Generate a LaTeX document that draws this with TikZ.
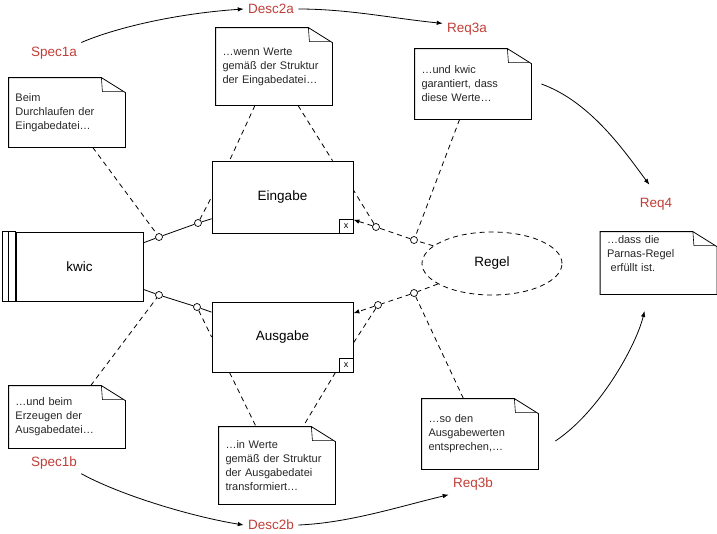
\documentclass[tikz,border=0pt]{standalone}
\usepackage{fontspec}
\setmainfont{Liberation Sans}
\usepackage{tikz}
\usetikzlibrary{positioning, arrows.meta, shapes.geometric}

\definecolor{tagred}{RGB}{192,62,56}

\begin{document}
\begin{tikzpicture}[
    x=1pt, y=-1pt,
    line width=0.8pt,
    unit/.style={
        rectangle,
        draw=black,
        minimum width=141pt,
        minimum height=71pt,
        font=\fontsize{13.5}{16}\selectfont
    },
    xmark/.style={
        rectangle,
        draw=black,
        fill=white,
        minimum size=14pt,
        inner sep=0pt,
        line width=0.6pt,
        font=\fontsize{9}{9}\selectfont
    },
    notebox/.style={
        rectangle,
        minimum width=116pt,
        text width=103pt,
        inner xsep=6.5pt,
        inner ysep=0pt,
        align=left,
        font=\fontsize{11}{14}\selectfont,
        text=black!85
    },
    tag/.style={
        text=tagred,
        inner sep=4pt,
        font=\fontsize{13.5}{16}\selectfont
    },
    port/.style={
        circle,
        draw=black,
        fill=white,
        minimum size=7pt,
        inner sep=0pt,
        line width=0.7pt
    },
    link/.style={dash pattern=on 5pt off 4pt},
    arr/.style={-{Latex[length=6pt,width=4.5pt]}}
]
\useasboundingbox (0,0) rectangle (717,533);

% --- Components ---
\node[unit, minimum width=127pt, minimum height=69pt] (kwic) at (79.5,266.5) {kwic};
\draw ([xshift=-13pt]kwic.north west) rectangle (kwic.south west);
\draw ([xshift=-7pt]kwic.north west) -- ([xshift=-7pt]kwic.south west);

\node[unit, minimum height=72pt] (eingabe) at (282.5,197) {Eingabe};
\node[xmark, anchor=south east] (eingabex) at (eingabe.south east) {x};
\node[unit, minimum height=70pt] (ausgabe) at (282.5,337) {Ausgabe};
\node[xmark, anchor=south east] (ausgabex) at (ausgabe.south east) {x};

\node[ellipse, draw, link, minimum width=140pt, minimum height=63pt,
      font=\fontsize{13.5}{16}\selectfont] (regel) at (492,263.5) {Regel};

% --- Ports ---
\node[port] (c1a) at (159,237) {};
\node[port] (c2a) at (198,223) {};
\node[port] (c1b) at (159,295) {};
\node[port] (c2b) at (197,307) {};
\node[port] (r1a) at (414,240) {};
\node[port] (r2a) at (376,227) {};
\node[port] (r1b) at (414,293) {};
\node[port] (r2b) at (378,305) {};

% --- Notes ---
\node[notebox, minimum height=69pt] (spec1a) at (67,112.5) {Beim\\Durchlaufen der\\Eingabedatei…};
\node[notebox, minimum height=77pt] (desc2a) at (274,66.5) {…wenn Werte\\gemäß der Struktur\\der Eingabedatei…};
\node[notebox, minimum height=70pt] (req3a) at (473,84) {…und kwic\\garantiert, dass\\diese Werte…};
\node[notebox, minimum height=62pt] (req4) at (658.5,263) {…dass die\\Parnas-Regel\\~erfüllt ist.\\[4pt]\mbox{}};
\node[notebox, minimum height=62pt] (spec1b) at (67,417) {…und beim\\Erzeugen der\\Ausgabedatei…};
\node[notebox, minimum height=77pt] (desc2b) at (277,465.5) {…in Werte\\gemäß der Struktur\\der Ausgabedatei\\transformiert…};
\node[notebox, minimum height=70pt] (req3b) at (480,434) {…so den\\Ausgabewerten\\entsprechen,…};

\foreach \n in {spec1a, desc2a, req3a, req4, spec1b, desc2b, req3b} {
    \draw (\n.south west) -- (\n.south east) -- ([yshift=-15pt]\n.north east)
        -- ([xshift=-24pt]\n.north east) -- (\n.north west) -- cycle;
    \draw[line width=0.6pt] ([xshift=-24pt]\n.north east) -- ([shift={(-23pt,-14pt)}]\n.north east)
        -- ([shift={(-2pt,-14pt)}]\n.north east);
}

% --- Labels ---
\node[tag] (lspec1a) at (54,53) {Spec1a};
\node[tag] (ldesc2a) at (271,9) {Desc2a};
\node[tag] (lreq3a) at (467,29) {Req3a};
\node[tag] (lreq4) at (656,204) {Req4};
\node[tag] (lspec1b) at (54,463) {Spec1b};
\node[tag] (ldesc2b) at (271,525) {Desc2b};
\node[tag] (lreq3b) at (473,484) {Req3b};

% --- Upper side ---
\draw (kwic) -- (c1a) -- (c2a) -- (eingabe);
\draw[link] (spec1a) -- (c1a);
\draw[link] (c2a) -- (eingabe.west);
\draw[link] ([xshift=-19pt]desc2a.south) -- ([xshift=-53pt]eingabe.north);
\draw[link] ([xshift=24pt]desc2a.south) -- ([xshift=50pt]eingabe.north);
\draw[link] (req3a) -- (r1a);
\draw[link] (regel) -- (r1a) -- (r2a);
\draw[link, arr] (r2a) -- (eingabe);
\draw[link] (r2a) -- ([yshift=7pt]eingabe.east);

% --- Lower side ---
\draw (kwic) -- (c1b) -- (c2b) -- (ausgabe);
\draw[link] (spec1b) -- (c1b);
\draw[link] (c2b) -- (ausgabe.west);
\draw[link] ([xshift=-53pt]ausgabe.south) -- ([xshift=-21pt]desc2b.north);
\draw[link] ([xshift=53pt]ausgabe.south) -- ([xshift=26pt]desc2b.north);
\draw[link] (req3b) -- (r1b);
\draw[link] (regel) -- (r1b) -- (r2b);
\draw[link, arr] (r2b) -- (ausgabe);
\draw[link] (r2b) -- ([yshift=-6pt]ausgabe.east);

% --- Reading order ---
\draw[arr] (lspec1a.north east) .. controls +(40,-17) and +(-60,4) .. (ldesc2a.west);
\draw[arr] (ldesc2a.east) .. controls +(50,0) and +(-50,-5) .. (lreq3a.167);
\draw[arr, shorten >=11pt] ([xshift=10pt]req3a.east) .. controls +(50,18) and +(-30,-40) .. (lreq4.north);
\draw[arr] (lspec1b.south east) .. controls +(40,22) and +(-50,-8) .. (ldesc2b.west);
\draw[arr] (ldesc2b.east) .. controls +(50,-2) and +(-50,12) .. (lreq3b.south west);
\draw[arr, shorten >=17pt] ([shift={(17pt,-7pt)}]req3b.east) .. controls +(45,-30) and +(-12,50) .. ([xshift=-10pt]req4.south);

\end{tikzpicture}
\end{document}
